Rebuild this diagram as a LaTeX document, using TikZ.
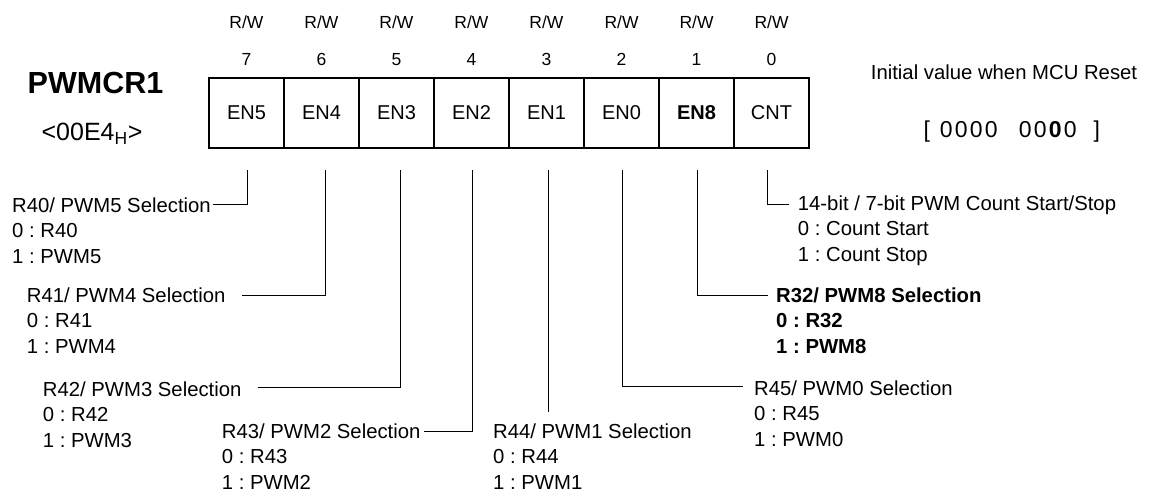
\documentclass[tikz,border=0pt]{standalone}
\usepackage{fontspec}
\setmainfont{Liberation Sans}
\newcommand\dgt[1]{\makebox[15pt][c]{#1}}
\begin{document}
\frenchspacing
\begin{tikzpicture}[x=1pt,y=-1pt,
  cell/.style={draw, line width=1.4pt, minimum width=75pt, minimum height=70pt, inner sep=0pt,
    font=\fontsize{20}{24}\selectfont},
  rw/.style={anchor=base, inner sep=0pt, font=\fontsize{17.5}{20}\selectfont},
  desc/.style={anchor=north west, inner sep=0pt, align=left, font=\fontsize{20.3}{25.3}\selectfont},
  conn/.style={line width=0.8pt}]
\useasboundingbox (0,0) rectangle (1153,493);

% register cells
\node[cell] (c7) at (246.5,113) {EN5};
\node[cell] (c6) at (321.5,113) {EN4};
\node[cell] (c5) at (396.5,113) {EN3};
\node[cell] (c4) at (471.5,113) {EN2};
\node[cell] (c3) at (546.5,113) {EN1};
\node[cell] (c2) at (621.5,113) {EN0};
\node[cell] (c1) at (696.5,113) {\textbf{EN8}};
\node[cell] (c0) at (771.5,113) {CNT};

% R/W and bit numbers
\foreach \n/\x in {7/246.5,6/321.5,5/396.5,4/471.5,3/546.5,2/621.5,1/696.5,0/771.5}{
  \node[rw] (rw\n) at (\x,28.3) {R/W};
  \node[rw] (b\n) at (\x,65.3) {\n};
}

% title and address
\node[inner sep=0pt, font=\bfseries\fontsize{30.5}{34}\selectfont] (title) at (95.5,83) {PWMCR1};
\node[inner sep=0pt, font=\fontsize{25}{28}\selectfont] (addr) at (92,134) {<00E4\textsubscript{H}>};

% reset value
\node[inner sep=0pt, font=\fontsize{20.3}{24}\selectfont] (init) at (1004,72) {Initial value when MCU Reset};
\node[anchor=west, inner sep=0pt, font=\fontsize{23}{26}\selectfont] (rst) at (923.5,132)
  {\makebox[15pt][l]{[}\dgt{0}\dgt{0}\dgt{0}\dgt{0}\hspace{19pt}\dgt{0}\dgt{0}\dgt{\textbf{0}}\dgt{0}\hspace{16pt}]};

% descriptions
\node[desc] (d7) at (12,197.7) {R40/ PWM5 Selection\\0 : R40\\1 : PWM5};
\node[desc] (d6) at (26.7,287.7) {R41/ PWM4 Selection\\0 : R41\\1 : PWM4};
\node[desc] (d5) at (42.7,381.7) {R42/ PWM3 Selection\\0 : R42\\1 : PWM3};
\node[desc] (d4) at (221.7,423.7) {R43/ PWM2 Selection\\0 : R43\\1 : PWM2};
\node[desc] (d3) at (493,423.5) {R44/ PWM1 Selection\\0 : R44\\1 : PWM1};
\node[desc] (d2) at (754,380.7) {R45/ PWM0 Selection\\0 : R45\\1 : PWM0};
\node[desc, font=\bfseries\fontsize{20.3}{25.3}\selectfont] (d1) at (776,287.7) {R32/ PWM8 Selection\\0 : R32\\1 : PWM8};
\node[desc] (d0) at (797.7,195.7) {14-bit / 7-bit PWM Count Start/Stop\\0 : Count Start\\1 : Count Stop};

% connector end points
\coordinate (t7) at (247.5,170); \coordinate (e7) at (213,204);
\coordinate (t6) at (325,170);   \coordinate (e6) at (241.7,295.5);
\coordinate (t5) at (400,170);   \coordinate (e5) at (258,387);
\coordinate (t4) at (472,170);   \coordinate (e4) at (424,431);
\coordinate (t3) at (548.5,170); \coordinate (e3) at (548.5,412);
\coordinate (t2) at (622.7,170); \coordinate (e2) at (743,386.5);
\coordinate (t1) at (697.7,170); \coordinate (e1) at (768,295.5);
\coordinate (t0) at (767.5,170); \coordinate (e0) at (789,204);

\draw[conn] (t7) |- (e7);
\draw[conn] (t6) |- (e6);
\draw[conn] (t5) |- (e5);
\draw[conn] (t4) |- (e4);
\draw[conn] (t3) -- (e3);
\draw[conn] (t2) |- (e2);
\draw[conn] (t1) |- (e1);
\draw[conn] (t0) |- (e0);
\end{tikzpicture}
\end{document}
